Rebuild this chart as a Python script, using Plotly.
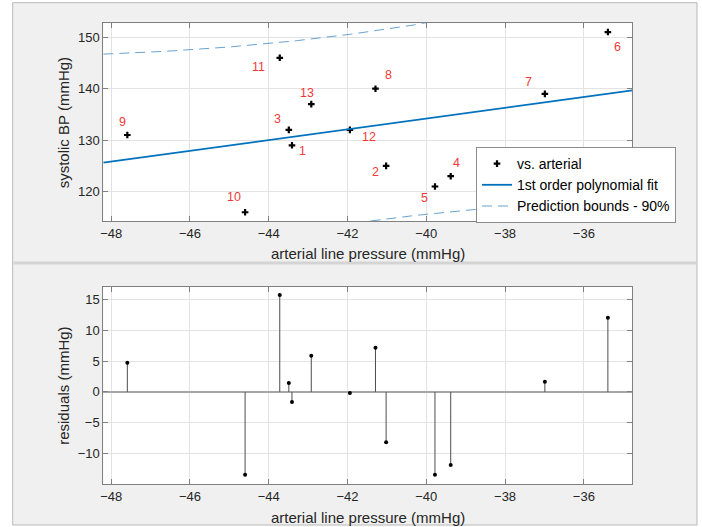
import numpy as np
import plotly.graph_objects as go

# ---------------- data ----------------
arterial = [-43.41, -41.02, -43.49, -39.38, -39.78, -35.39, -36.99,
            -41.29, -47.59, -44.60, -43.72, -41.94, -42.92]
systolic = [129, 125, 132, 123, 121, 151, 139, 140, 131, 116, 146, 132, 137]
point_labels = [str(i) for i in range(1, 14)]
x_ticks = [-48, -46, -44, -42, -40, -38, -36]
top_y_ticks = [120, 130, 140, 150]
bottom_y_ticks = [-10, -5, 0, 5, 10, 15]
T_QUANTILE_90 = 1.7959  # Student t, p=0.95, df=11 (two-sided 90 % bounds)

# ---------------- styling / layout ----------------
label_offsets = [(11, -6), (-11, -6), (-11, 11), (6, 13), (-10, -11), (10, -15),
                 (-16, 12), (13, 14), (-5, 13), (-11, 15), (-21, -9), (19, -7), (-4, 11)]
W, H = 702, 527
X_RANGE = [-48.2, -34.77]
TOP_Y_RANGE = [114.3, 152.7]
BOT_Y_RANGE = [-14.95, 17.03]
FONT = "Liberation Sans, Arial, Helvetica, sans-serif"
TXT = "#262626"
FIT_BLUE = "#0072BD"
BOUND_BLUE = "#6aa2cf"
LABEL_RED = "#f03a3a"

def px_x(p):
    return p / W

def px_y(p):
    return 1 - p / H

x_dom = [px_x(103.3), px_x(632.3)]
top_dom = [px_y(221.0), px_y(23.3)]
bot_dom = [px_y(484.3), px_y(286.7)]

# ---------------- regression (as in the original fit) ----------------
x = np.array(arterial, dtype=float)
y = np.array(systolic, dtype=float)
n = len(x)
coef = np.polyfit(x, y, 1)
y_hat = np.polyval(coef, x)
residuals = y - y_hat
s = np.sqrt(np.sum(residuals ** 2) / (n - 2))
sxx = np.sum((x - x.mean()) ** 2)
xf = np.linspace(X_RANGE[0], X_RANGE[1], 200)
yf = np.polyval(coef, xf)
half = T_QUANTILE_90 * s * np.sqrt(1 + 1 / n + (xf - x.mean()) ** 2 / sxx)

fig = go.Figure()

# top panel
fig.add_trace(go.Scatter(x=arterial, y=systolic, mode="markers", name="vs. arterial",
                         marker=dict(symbol="cross", size=5.5, color="black"),
                         xaxis="x", yaxis="y"))
fig.add_trace(go.Scatter(x=xf, y=yf, mode="lines", name="1st order polynomial fit",
                         line=dict(color=FIT_BLUE, width=1.8), xaxis="x", yaxis="y"))
fig.add_trace(go.Scatter(x=xf, y=yf + half, mode="lines", name="Prediction bounds - 90%",
                         line=dict(color=BOUND_BLUE, width=1, dash="10px,6px"),
                         legendgroup="pb", xaxis="x", yaxis="y"))
fig.add_trace(go.Scatter(x=xf, y=yf - half, mode="lines", showlegend=False,
                         line=dict(color=BOUND_BLUE, width=1, dash="10px,6px"),
                         legendgroup="pb", xaxis="x", yaxis="y"))

# bottom panel: stems
sx, sy = [], []
for xi, ri in zip(arterial, residuals):
    sx += [xi, xi, None]
    sy += [0, ri, None]
fig.add_trace(go.Scatter(x=sx, y=sy, mode="lines", showlegend=False,
                         line=dict(color="#4d4d4d", width=1), xaxis="x2", yaxis="y2"))
fig.add_trace(go.Scatter(x=arterial, y=residuals, mode="markers", showlegend=False,
                         marker=dict(symbol="circle", size=4, color="black"),
                         xaxis="x2", yaxis="y2"))

axis_common = dict(showline=True, linecolor="#808080", linewidth=1, mirror="ticks",
                   ticks="inside", ticklen=5, tickcolor="#808080", tickwidth=1,
                   showgrid=True, gridcolor="#e3e3e3", gridwidth=1, zeroline=False,
                   tickfont=dict(family=FONT, size=13, color=TXT), automargin=False)

fig.update_layout(
    width=W, height=H,
    margin=dict(l=0, r=0, t=0, b=0),
    paper_bgcolor="white", plot_bgcolor="rgba(0,0,0,0)",
    font=dict(family=FONT, color=TXT),
    xaxis=dict(domain=x_dom, range=X_RANGE, tickvals=x_ticks, anchor="y", **axis_common),
    yaxis=dict(domain=top_dom, range=TOP_Y_RANGE, tickvals=top_y_ticks, anchor="x", **axis_common),
    xaxis2=dict(domain=x_dom, range=X_RANGE, tickvals=x_ticks, anchor="y2", **axis_common),
    yaxis2=dict(domain=bot_dom, range=BOT_Y_RANGE, tickvals=bottom_y_ticks, anchor="x2",
                **{**axis_common, "zeroline": True, "zerolinecolor": "#a6a6a6", "zerolinewidth": 2}),
    legend=dict(x=px_x(476), y=px_y(147), xanchor="left", yanchor="top",
                bgcolor="white", bordercolor="#8c8c8c", borderwidth=1,
                font=dict(family=FONT, size=14, color="black"),
                tracegroupgap=0),
    showlegend=True,
)

shapes = [
    dict(type="rect", xref="paper", yref="paper", layer="below",
         x0=px_x(12.7), x1=px_x(697), y0=px_y(525), y1=px_y(2.7),
         fillcolor="#f0f0f0", line=dict(color="#b8b8b8", width=1)),
    dict(type="line", xref="paper", yref="paper", layer="below",
         x0=px_x(13.5), x1=px_x(696.5), y0=px_y(263), y1=px_y(263),
         line=dict(color="#d4d4d4", width=3)),
    dict(type="rect", xref="paper", yref="paper", layer="below",
         x0=x_dom[0], x1=x_dom[1], y0=top_dom[0], y1=top_dom[1],
         fillcolor="white", line=dict(width=0)),
    dict(type="rect", xref="paper", yref="paper", layer="below",
         x0=x_dom[0], x1=x_dom[1], y0=bot_dom[0], y1=bot_dom[1],
         fillcolor="white", line=dict(width=0)),
]
fig.update_layout(shapes=shapes)

annotations = []
for xi, yi, lab, (dx, dy) in zip(arterial, systolic, point_labels, label_offsets):
    annotations.append(dict(x=xi, y=yi, xref="x", yref="y", text=lab, showarrow=False,
                            xshift=dx, yshift=dy,
                            font=dict(family=FONT, size=12.5, color=LABEL_RED)))
xc = (x_dom[0] + x_dom[1]) / 2
annotations += [
    dict(x=xc, y=px_y(254), xref="paper", yref="paper", text="arterial line pressure (mmHg)",
         showarrow=False, xanchor="center", yanchor="middle", font=dict(family=FONT, size=15, color=TXT)),
    dict(x=xc, y=px_y(517), xref="paper", yref="paper", text="arterial line pressure (mmHg)",
         showarrow=False, xanchor="center", yanchor="middle", font=dict(family=FONT, size=15, color=TXT)),
    dict(x=px_x(63.3), y=px_y(123), xref="paper", yref="paper", text="systolic BP (mmHg)",
         textangle=-90, showarrow=False, xanchor="center", yanchor="middle",
         font=dict(family=FONT, size=15, color=TXT)),
    dict(x=px_x(63.3), y=px_y(385.5), xref="paper", yref="paper", text="residuals (mmHg)",
         textangle=-90, showarrow=False, xanchor="center", yanchor="middle",
         font=dict(family=FONT, size=15, color=TXT)),
]
fig.update_layout(annotations=annotations)

fig.write_html("out.html",
               config={"displayModeBar": False},
               post_script="document.body.style.margin='0';document.body.style.overflow='hidden';")
